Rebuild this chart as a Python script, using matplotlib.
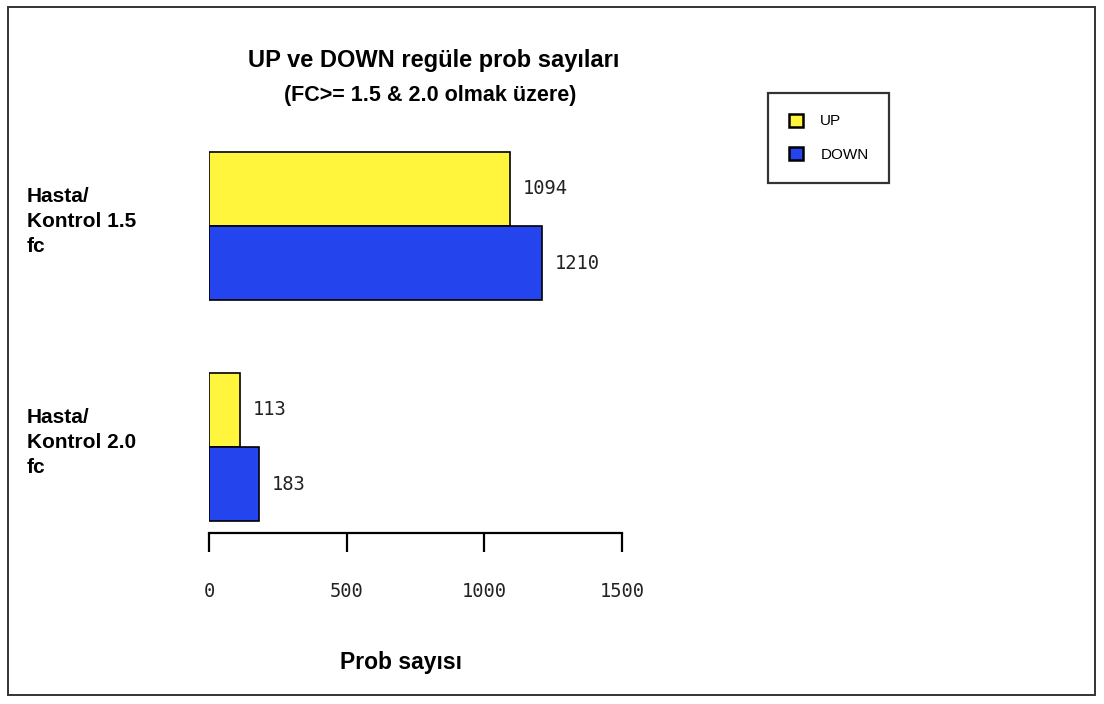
import numpy as np
import matplotlib
matplotlib.use('Agg')
import matplotlib.pyplot as plt
from matplotlib import transforms
from matplotlib.patches import Rectangle

# veriler
gruplar = ['Hasta/\nKontrol 1.5\nfc', 'Hasta/\nKontrol 2.0\nfc']
up_sayilari = [1094, 113]
down_sayilari = [1210, 183]
x_ticks = [0, 500, 1000, 1500]

sari = '#FFF53C'
mavi = '#2444EE'
mono = 'DejaVu Sans Mono'

fig = plt.figure(figsize=(11.04, 7.04), dpi=100)
ax = fig.add_axes([209/1104, 1 - 533/704, 413/1104, 393/704])

y = np.arange(len(gruplar))
h = 0.335
b_up = ax.barh(y - h/2, up_sayilari, height=h, color=sari, edgecolor='black',
               lw=1.2, label='UP')
b_down = ax.barh(y + h/2, down_sayilari, height=h, color=mavi, edgecolor='black',
                 lw=1.2, label='DOWN')

# bar değerleri
for bars in (b_up, b_down):
    for r in bars:
        v = r.get_width()
        ax.text(v + 45, r.get_y() + r.get_height()/2, str(int(v)),
                va='center', ha='left', family=mono, fontsize=13.5, color='#222222')

ax.set_xlim(0, 1500)
ax.set_ylim(1.389, -0.389)
ax.set_xticks(x_ticks)
ax.set_xticklabels([str(t) for t in x_ticks], family=mono, fontsize=13.5, color='#222222')
ax.tick_params(axis='x', length=14, width=1.6, pad=21, direction='out')
ax.set_yticks([])
for s in ('top', 'right', 'left'):
    ax.spines[s].set_visible(False)
ax.spines['bottom'].set_linewidth(1.6)

# grup etiketleri
tr = transforms.blended_transform_factory(fig.transFigure, ax.transData)
for yi, g in zip(y, gruplar):
    ax.text(27/1104, yi - 0.02, g, transform=tr, ha='left', va='center', fontsize=15,
            fontweight='bold', family='Liberation Sans', linespacing=1.4)

fig.text(434/1104, 1 - 60/704, 'UP ve DOWN regüle prob sayıları', ha='center',
         va='center', fontsize=17, fontweight='bold', family='Liberation Sans')
fig.text(430/1104, 1 - 95/704, '(FC>= 1.5 & 2.0 olmak üzere)', ha='center',
         va='center', fontsize=15.5, fontweight='bold', family='Liberation Sans')
fig.text(401/1104, 1 - 663/704, 'Prob sayısı', ha='center', va='center',
         fontsize=16.5, fontweight='bold', family='Liberation Sans')

leg = fig.legend(handles=[b_up, b_down], loc='upper left',
                 bbox_to_anchor=(768/1104, 1 - 93/704), frameon=True,
                 fancybox=False, prop={'family': 'Liberation Sans', 'size': 11},
                 handlelength=0.92, handleheight=0.92, handletextpad=1.15,
                 borderpad=1.35, labelspacing=1.25, borderaxespad=0)
leg.get_frame().set_edgecolor('black')
leg.get_frame().set_linewidth(1.6)
for p in leg.legend_handles:
    p.set_linewidth(1.8)

# dış çerçeve
fig.patches.append(Rectangle((8/1104, 1 - 695/704), 1087/1104, 688/704,
                             transform=fig.transFigure, fill=False,
                             edgecolor='#333333', lw=1.4))

plt.savefig('out.png', dpi=100)
